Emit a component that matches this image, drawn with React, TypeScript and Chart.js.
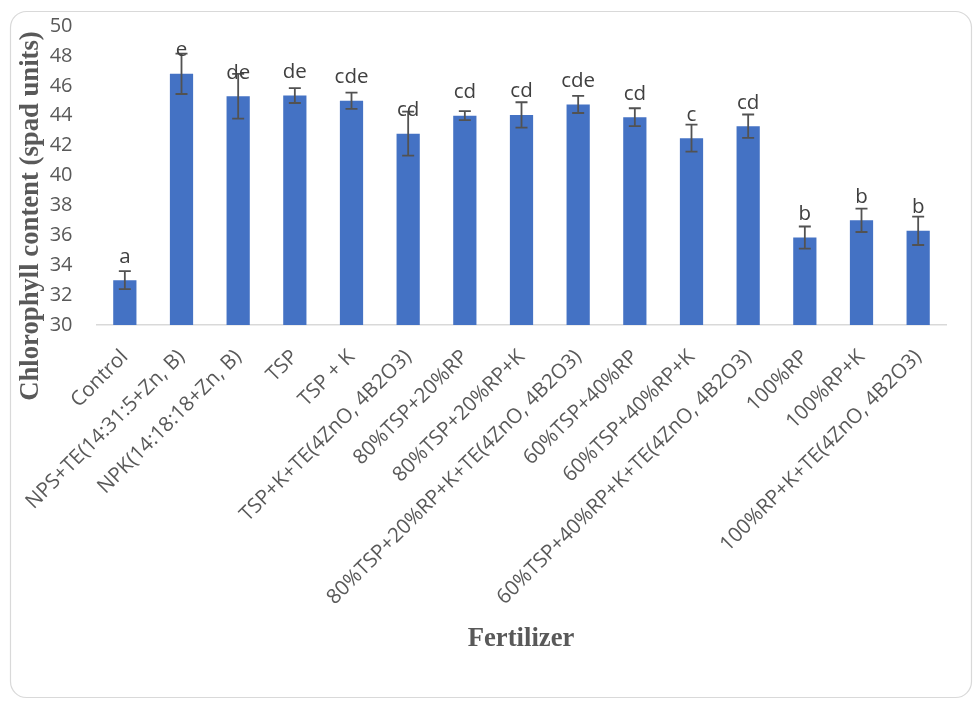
import React, { useEffect, useRef } from "react";
import { Chart, registerables } from "chart.js";

Chart.register(...registerables);

// Fertilizer treatments on the x axis
const categories = [
  "Control",
  "NPS+TE(14:31:5+Zn, B)",
  "NPK(14:18:18+Zn, B)",
  "TSP",
  "TSP + K",
  "TSP+K+TE(4ZnO, 4B2O3)",
  "80%TSP+20%RP",
  "80%TSP+20%RP+K",
  "80%TSP+20%RP+K+TE(4ZnO, 4B2O3)",
  "60%TSP+40%RP",
  "60%TSP+40%RP+K",
  "60%TSP+40%RP+K+TE(4ZnO, 4B2O3)",
  "100%RP",
  "100%RP+K",
  "100%RP+K+TE(4ZnO, 4B2O3)",
];

// Mean chlorophyll content (SPAD units)
const chlorophyll = [33.0, 46.8, 45.3, 45.35, 45.0, 42.8, 44.0, 44.05, 44.75, 43.9, 42.5, 43.3, 35.85, 37.0, 36.3];

// Standard error for each mean
const stdError = [0.6, 1.35, 1.5, 0.5, 0.55, 1.47, 0.3, 0.85, 0.57, 0.6, 0.9, 0.78, 0.74, 0.78, 0.95];

// Mean separation letters
const groupLetters = ["a", "e", "de", "de", "cde", "cd", "cd", "cd", "cde", "cd", "c", "cd", "b", "b", "b"];

// Y axis range and tick step
const yMin = 30;
const yMax = 50;
const yStep = 2;

const TEXT_COLOR = "#595959";
const SANS = "'Open Sans', 'Noto Sans', sans-serif";
const SERIF = "'Liberation Serif', 'DejaVu Serif', serif";

const framePlugin = {
  id: "frame",
  beforeDraw(chart: any) {
    const ctx = chart.ctx;
    ctx.save();
    ctx.fillStyle = "#ffffff";
    ctx.fillRect(0, 0, chart.width, chart.height);
    ctx.strokeStyle = "#d9d9d9";
    ctx.lineWidth = 1.2;
    ctx.beginPath();
    ctx.roundRect(10.5, 11.5, 961, 686, 16);
    ctx.stroke();
    ctx.restore();
  },
};

const annotatePlugin = {
  id: "annotate",
  afterDatasetsDraw(chart: any) {
    const ctx = chart.ctx;
    const x = chart.scales.x;
    const y = chart.scales.y;
    ctx.save();
    // error bars
    ctx.strokeStyle = "#525252";
    ctx.lineWidth = 1.8;
    chlorophyll.forEach((v, i) => {
      const cx = x.getPixelForValue(i);
      const top = y.getPixelForValue(v + stdError[i]);
      const bot = y.getPixelForValue(v - stdError[i]);
      ctx.beginPath();
      ctx.moveTo(cx, top);
      ctx.lineTo(cx, bot);
      ctx.moveTo(cx - 6, top);
      ctx.lineTo(cx + 6, top);
      ctx.moveTo(cx - 6, bot);
      ctx.lineTo(cx + 6, bot);
      ctx.stroke();
    });
    // letters above bars
    ctx.fillStyle = "#404040";
    ctx.font = `20.5px ${SANS}`;
    ctx.textAlign = "center";
    ctx.textBaseline = "alphabetic";
    chlorophyll.forEach((v, i) => {
      const cx = x.getPixelForValue(i);
      const top = y.getPixelForValue(v);
      ctx.fillText(groupLetters[i], cx, top - 17.5);
    });
    // axis titles
    ctx.fillStyle = TEXT_COLOR;
    ctx.font = `bold 26.7px ${SERIF}`;
    ctx.textBaseline = "middle";
    ctx.fillText("Fertilizer", 521, 639);
    ctx.translate(31, 216);
    ctx.rotate(-Math.PI / 2);
    ctx.fillText("Chlorophyll content (spad units)", 0, 0);
    ctx.restore();
  },
};

export default function App() {
  const canvasRef = useRef<HTMLCanvasElement | null>(null);

  useEffect(() => {
    if (!canvasRef.current) return;
    const chart = new Chart(canvasRef.current, {
      type: "bar",
      data: {
        labels: categories,
        datasets: [
          {
            data: chlorophyll,
            backgroundColor: "#4472C4",
            borderWidth: 0,
            barPercentage: 0.41,
            categoryPercentage: 1,
          },
        ],
      },
      options: {
        responsive: false,
        animation: false,
        devicePixelRatio: 1,
        layout: { padding: { left: 0, top: 26, right: 27.5, bottom: 0 } },
        plugins: {
          legend: { display: false },
          tooltip: { enabled: false },
          title: { display: false },
        },
        scales: {
          x: {
            grid: { display: false, drawTicks: false },
            border: { display: true, color: "#d9d9d9", width: 1.5 },
            ticks: {
              autoSkip: false,
              minRotation: 45,
              maxRotation: 45,
              padding: 20,
              color: TEXT_COLOR,
              font: { family: SANS, size: 20.5 },
            },
            afterFit(scale: any) {
              scale.height = 379;
              scale.paddingLeft = 0;
              scale.paddingRight = 0;
            },
          },
          y: {
            min: yMin,
            max: yMax,
            grid: { display: false, drawTicks: false },
            border: { display: false },
            ticks: {
              stepSize: yStep,
              padding: 24,
              color: TEXT_COLOR,
              font: { family: SANS, size: 20 },
            },
            afterFit(scale: any) {
              scale.width = 96.5;
              scale.paddingTop = 0;
              scale.paddingBottom = 0;
            },
          },
        },
      },
      plugins: [framePlugin, annotatePlugin],
    });
    return () => chart.destroy();
  }, []);

  return (
    <div style={{ position: "fixed", left: 0, top: 0, width: 974, height: 704, background: "#fff" }}>
      <canvas ref={canvasRef} width={974} height={704} style={{ display: "block" }} />
    </div>
  );
}
